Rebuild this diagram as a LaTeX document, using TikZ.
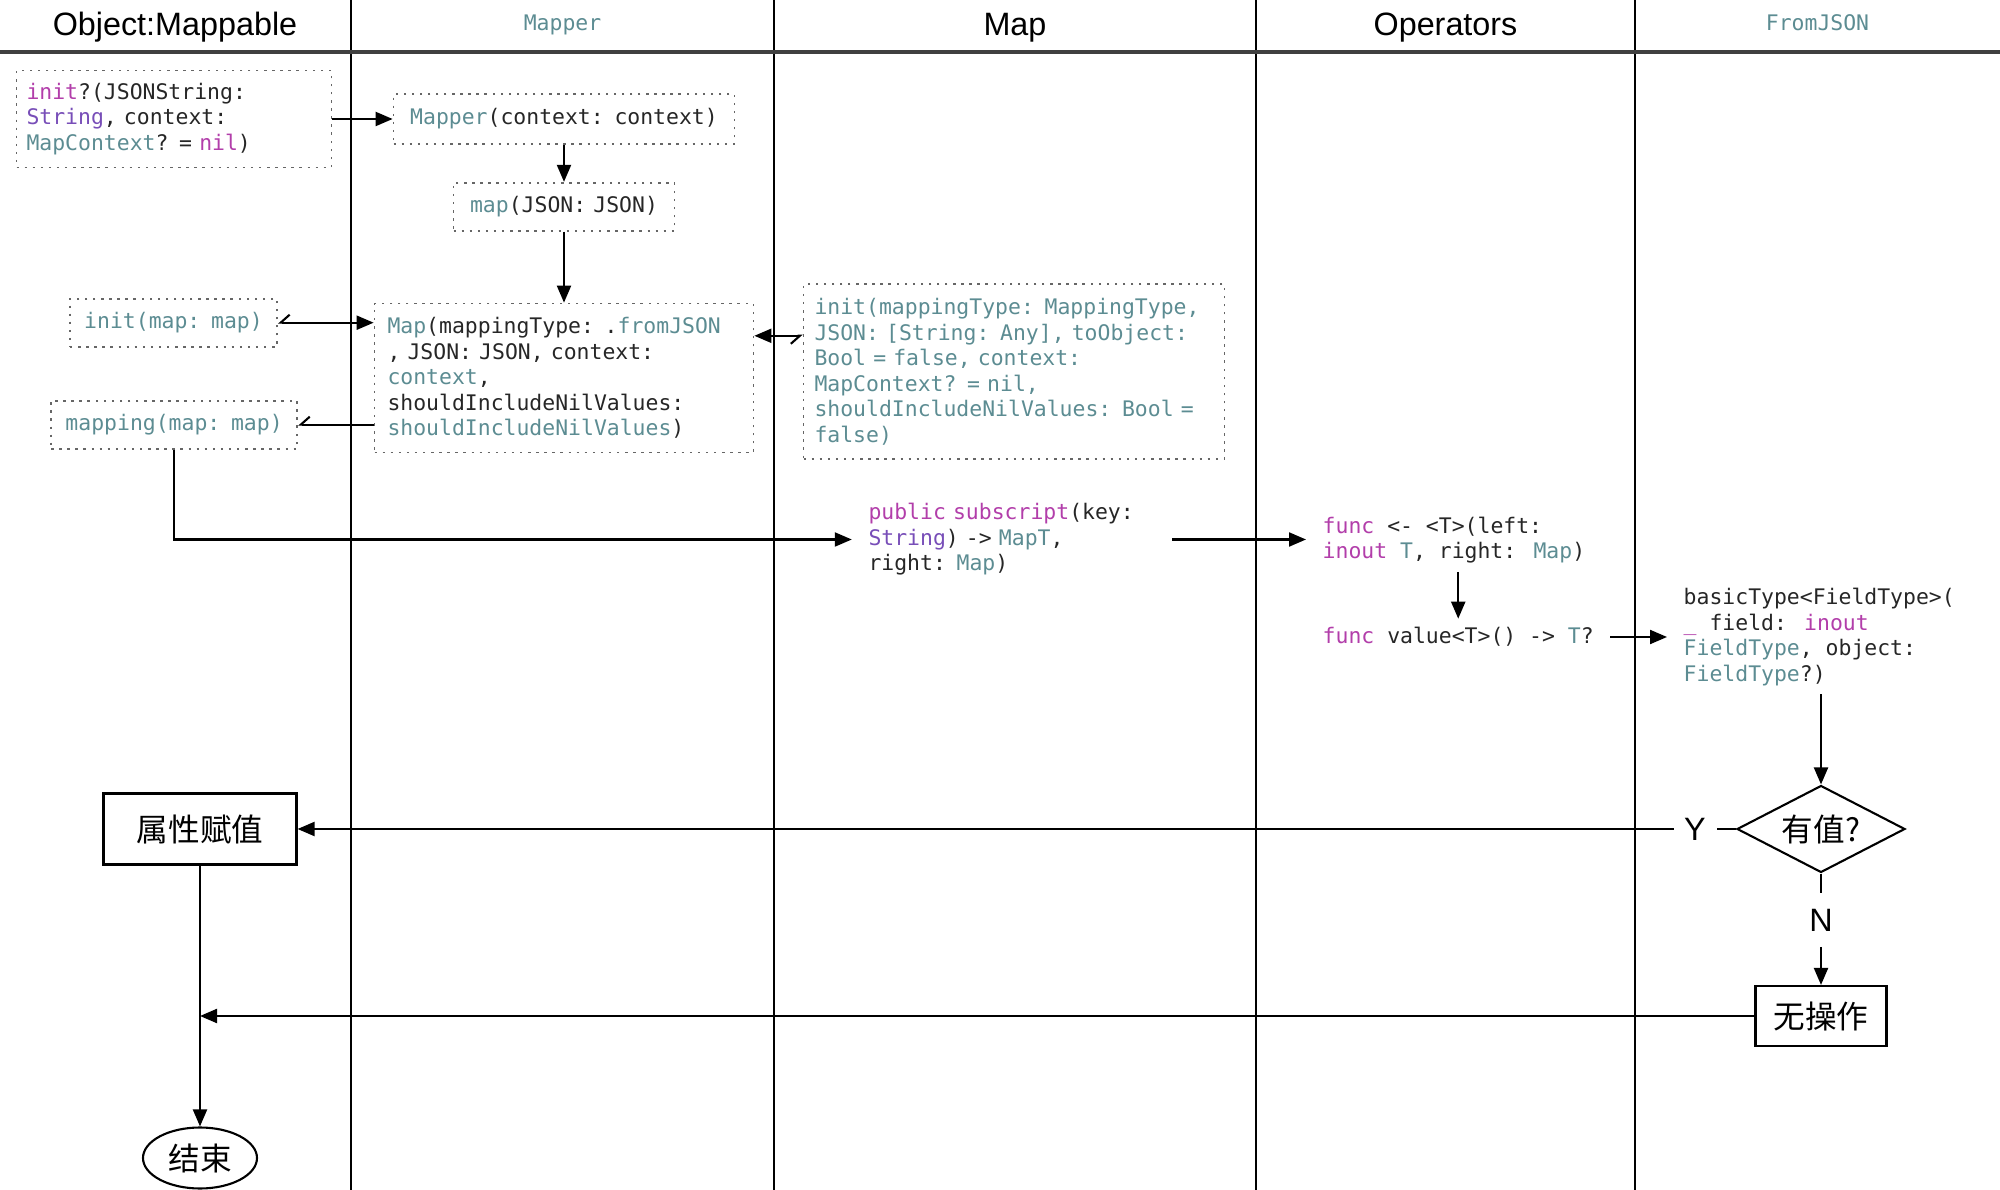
\documentclass[tikz,border=0pt]{standalone}
\usepackage{fontspec}
\setmainfont{Liberation Sans}
\newfontfamily\codefont[WordSpace={1,0,0}]{DejaVu Sans Mono}
\newfontfamily\cjk{Noto Sans CJK SC}
\usetikzlibrary{shapes.geometric,arrows.meta,positioning}

\definecolor{swkey}{RGB}{178,62,170}
\definecolor{swtype}{RGB}{120,78,184}
\definecolor{swteal}{RGB}{92,140,146}
\newcommand{\ckey}[1]{\textcolor{swkey}{#1}}
\newcommand{\ctype}[1]{\textcolor{swtype}{#1}}
\newcommand{\cteal}[1]{\textcolor{swteal}{#1}}
\newcommand{\codesize}{\fontsize{6.1pt}{7.26pt}\selectfont}
\newcommand{\cjksize}{\fontsize{9pt}{11pt}\selectfont}

\begin{document}
\begin{tikzpicture}[
  lane/.style={line width=0.6pt},
  lanehead/.style={anchor=base, font=\fontsize{9.2pt}{11pt}\selectfont},
  codehead/.style={anchor=base, font=\codefont\codesize, text=swteal},
  codebox/.style={rectangle, draw=black!60, line width=0.5pt, dash pattern=on 0.7pt off 1.6pt,
    font=\codefont\codesize, text=black!85, align=left, inner xsep=0.1cm, inner ysep=0pt},
  codetext/.style={rectangle, font=\codefont\codesize, text=black!85, align=left,
    inner xsep=0.16cm, inner ysep=0.08cm},
  procbox/.style={rectangle, draw, line width=0.6pt, font=\cjk\cjksize},
  decision/.style={diamond, draw, line width=0.6pt, aspect=1.94, inner sep=0pt,
    minimum width=1.68cm, minimum height=0.87cm, font=\cjk\cjksize},
  terminal/.style={ellipse, draw, line width=0.6pt, inner sep=0pt,
    minimum width=1.14cm, minimum height=0.61cm, font=\cjk\cjksize},
  answer/.style={font=\fontsize{9.2pt}{11pt}\selectfont, inner xsep=0.1cm, inner ysep=0.15cm},
  arrow/.style={-{Triangle[length=1.7mm,width=1.4mm]}, line width=0.6pt},
  back/.style={{Straight Barb[right,length=0.9mm,width=1.6mm]}-, line width=0.6pt},
  both/.style={{Straight Barb[right,length=0.9mm,width=1.6mm]}-{Triangle[length=1.7mm,width=1.4mm]}, line width=0.6pt}
]
  \useasboundingbox (0,0) rectangle (20,-11.9);

  % swimlanes
  \foreach \x in {3.51,7.74,12.56,16.35}
    \draw[lane] (\x,0) -- (\x,-11.9);
  \draw[line width=1pt, black!75] (0,-0.52) -- (20,-0.52);

  \node[lanehead] (hobject)   at (1.75,-0.36)   {Object:Mappable};
  \node[codehead] (hmapper)   at (5.625,-0.31)  {Mapper};
  \node[lanehead] (hmap)      at (10.15,-0.36)  {Map};
  \node[lanehead] (hoperator) at (14.455,-0.36) {Operators};
  \node[codehead] (hfromjson) at (18.175,-0.31) {FromJSON};

  % Object:Mappable / Mapper / Map
  \node[codebox, text width=2.95cm, minimum height=0.97cm] (initjson) at (1.74,-1.19)
    {\ckey{init}?(JSONString:\\\ctype{String}, context:\\\cteal{MapContext}? = \ckey{nil})};
  \node[codebox, align=center, text width=3.21cm, minimum height=0.5cm] (mapper) at (5.64,-1.19)
    {\cteal{Mapper}(context: context)};
  \node[codebox, align=center, text width=2.01cm, minimum height=0.48cm, below=0.37cm of mapper] (mapfn)
    {\cteal{map}(JSON: JSON)};
  \node[codebox, inner xsep=0.13cm, text width=3.53cm, minimum height=1.49cm, below=0.71cm of mapfn] (mapinit)
    {\cteal{Map}(mappingType: .\cteal{fromJSON}\\, JSON: JSON, context:\\\cteal{context},\\shouldIncludeNilValues:\\\cteal{shouldIncludeNilValues})};
  \node[codebox, text=swteal, align=center, text width=1.87cm, minimum height=0.48cm] (initmap) at (1.735,-3.227)
    {init(map: map)};
  \node[codebox, text=swteal, align=center, text width=2.26cm, minimum height=0.48cm] (mapping) at (1.741,-4.247)
    {mapping(map: map)};
  \node[codebox, text=swteal, inner xsep=0.11cm, text width=3.99cm, minimum height=1.75cm] (mapfull) at (10.14,-3.718)
    {init(mappingType: MappingType,\\JSON: [String: Any], toObject:\\Bool = false, context:\\MapContext? = nil,\\shouldIncludeNilValues: Bool =\\false)};
  \node[codetext, text width=2.87cm] (subscript) at (10.12,-5.395)
    {\ckey{public subscript}(key:\\\ctype{String}) -> \cteal{MapT},\\right: \cteal{Map})};

  % Operators / FromJSON
  \node[codetext, anchor=west] (oper) at (13.06,-5.40)
    {\ckey{func} <- <T>(left:\\\ckey{inout} \cteal{T}, right: \cteal{Map})};
  \node[codetext, anchor=west] (value) at (13.06,-6.37)
    {\ckey{func} value<T>() -> \cteal{T}?};
  \node[codetext, anchor=west] (basic) at (16.67,-6.37)
    {basicType<FieldType>(\\\ckey{\_} field: \ckey{inout}\\\cteal{FieldType}, object:\\\cteal{FieldType}?)};
  \node[decision] (hasvalue) at (18.21,-8.29) {有值?};
  \node[answer] (yes) at (16.95,-8.29) {Y};
  \node[answer] (no) at (18.21,-9.20) {N};
  \node[procbox, minimum width=1.31cm, minimum height=0.60cm] (noop) at (18.21,-10.16) {无操作};
  \node[procbox, minimum width=1.93cm, minimum height=0.71cm] (assign) at (2.0,-8.29) {属性赋值};
  \node[terminal] (stop) at (2.0,-11.58) {结束};
  \coordinate (merge) at (assign.south |- noop.west);

  \draw[arrow] (initjson.east) -- (mapper.west);
  \draw[arrow] (mapper) -- (mapfn);
  \draw[arrow] (mapfn) -- (mapinit);
  \draw[both] (initmap.east) -- (initmap.east -| mapinit.west);
  \draw[back] (mapping.east) -- (mapping.east -| mapinit.west);
  \draw[both] ([yshift=0.36cm]mapfull.west) -- ([yshift=0.36cm]mapfull.west -| mapinit.east);
  \draw[arrow] (mapping.south) |- (subscript.west);
  \draw[arrow] (subscript.east) -- (subscript.east -| oper.west);
  \draw[arrow] (oper.south -| value.north) -- (value.north);
  \draw[arrow] (value.east) -- (basic.west);
  \draw[arrow] (basic.south -| hasvalue.north) -- (hasvalue.north);
  \draw (hasvalue.west) -- (yes.east);
  \draw[arrow] (yes.west) -- (assign.east);
  \draw (hasvalue.south) -- (no.north);
  \draw[arrow] (no.south) -- (noop.north);
  \draw[arrow] (noop.west) -- (merge);
  \draw[arrow] (assign.south) -- (stop.north);
\end{tikzpicture}
\end{document}
